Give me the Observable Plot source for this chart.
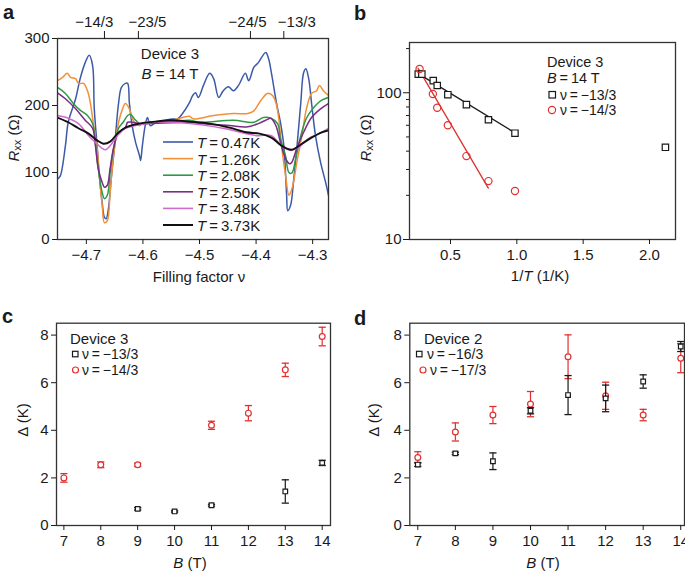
<!DOCTYPE html>
<html><head><meta charset="utf-8">
<script src="https://cdn.jsdelivr.net/npm/d3@7"></script>
<script src="https://cdn.jsdelivr.net/npm/@observablehq/plot@0.6"></script>
<style>
body{margin:0;background:#fff;}
#fig{position:relative;width:685px;height:571px;overflow:hidden;background:#fff;}
</style></head><body><div id="fig"></div>
<script>
// ---------- Panel a: Rxx vs filling factor ----------
const nu047=[-4.750,-4.746,-4.737,-4.732,-4.719,-4.711,-4.702,-4.695,-4.689,-4.686,-4.681,-4.677,-4.672,-4.668,-4.665,-4.661,-4.656,-4.650,-4.643,-4.638,-4.631,-4.627,-4.624,-4.619,-4.613,-4.606,-4.604,-4.601,-4.596,-4.592,-4.587,-4.580,-4.571,-4.560,-4.548,-4.539,-4.530,-4.518,-4.512,-4.507,-4.502,-4.493,-4.482,-4.475,-4.466,-4.458,-4.449,-4.440,-4.431,-4.419,-4.413,-4.404,-4.396,-4.383,-4.378,-4.373,-4.364,-4.357,-4.351,-4.348,-4.346,-4.344,-4.339,-4.334,-4.328,-4.321,-4.316,-4.312,-4.307,-4.302,-4.295,-4.286,-4.277,-4.272];
const r047=[91,95,140,175,210,240,264,275,260,195,140,95,55,33,31,46,91,140,204,227,233,233,204,170,145,125,118,140,170,182,170,173,176,178,180,180,188,204,215,219,212,230,248,240,212,222,228,222,230,248,237,257,264,279,270,249,204,175,140,100,66,43,51,85,136,204,249,255,240,204,155,115,85,66];
const nu126=[-4.751,-4.742,-4.734,-4.728,-4.719,-4.714,-4.705,-4.698,-4.693,-4.688,-4.681,-4.677,-4.672,-4.668,-4.663,-4.658,-4.652,-4.643,-4.636,-4.631,-4.624,-4.619,-4.613,-4.606,-4.601,-4.592,-4.578,-4.560,-4.542,-4.518,-4.511,-4.475,-4.440,-4.415,-4.404,-4.392,-4.380,-4.371,-4.365,-4.360,-4.355,-4.348,-4.342,-4.339,-4.334,-4.328,-4.319,-4.311,-4.302,-4.293,-4.288,-4.281,-4.272];
const r126=[237,242,248,242,240,233,233,222,204,175,136,96,51,25,28,70,125,175,195,203,195,181,173,170,173,176,175,176,179,184,180,185,188,188,192,207,218,215,204,181,140,96,66,70,85,115,155,195,218,222,230,222,215];
const nu208=[-4.751,-4.737,-4.723,-4.711,-4.698,-4.689,-4.684,-4.679,-4.672,-4.668,-4.663,-4.658,-4.652,-4.643,-4.635,-4.627,-4.622,-4.615,-4.606,-4.601,-4.588,-4.571,-4.548,-4.518,-4.498,-4.440,-4.404,-4.387,-4.374,-4.362,-4.357,-4.348,-4.342,-4.337,-4.330,-4.321,-4.311,-4.298,-4.286,-4.272];
const r208=[227,218,203,193,185,173,145,106,70,61,66,100,136,166,175,185,187,180,173,173,175,175,176,178,175,178,175,182,181,173,151,125,100,99,121,155,181,197,207,212];
const nu250=[-4.751,-4.737,-4.719,-4.702,-4.689,-4.684,-4.679,-4.672,-4.668,-4.663,-4.658,-4.652,-4.643,-4.631,-4.627,-4.619,-4.606,-4.518,-4.482,-4.447,-4.417,-4.396,-4.383,-4.374,-4.365,-4.357,-4.348,-4.341,-4.337,-4.328,-4.316,-4.302,-4.286,-4.272];
const r250=[219,210,195,178,166,140,106,85,78,81,106,136,160,167,175,175,173,175,172,170,168,173,178,181,170,145,121,113,115,136,160,182,195,203];
const nu348=[-4.751,-4.732,-4.714,-4.696,-4.684,-4.672,-4.666,-4.658,-4.645,-4.631,-4.613,-4.578,-4.518,-4.459,-4.399,-4.373,-4.355,-4.339,-4.325,-4.307,-4.289,-4.272];
const r348=[185,181,173,155,145,136,134,140,155,166,170,175,173,166,155,155,140,133,137,151,158,166];
const nu373=[-4.751,-4.732,-4.714,-4.696,-4.681,-4.670,-4.658,-4.645,-4.631,-4.606,-4.578,-4.548,-4.518,-4.482,-4.447,-4.417,-4.394,-4.373,-4.355,-4.337,-4.319,-4.302,-4.284,-4.272];
const r373=[182,175,166,158,148,143,146,158,167,173,176,178,176,173,167,160,158,152,140,134,143,152,160,163];
const tempLabels=["0.47","1.26","2.08","2.50","3.48","3.73"];
const tempColors=["#3c5aa9","#f2903a","#2e9a48","#7b2d84","#d06acb","#111111"];
const nuBottomTicks=[-4.7,-4.6,-4.5,-4.4,-4.3];
const nuTopTicks=[-4.668,-4.608,-4.41,-4.351];
const nuTopLabelPos=[-4.686,-4.592,-4.415,-4.328];
const nuTopLabels=["\u221214/3","\u221223/5","\u221224/5","\u221213/3"];
const rTicks=[0,100,200,300];

// ---------- Panel b: Arrhenius plot ----------
const invT13=[0.257,0.284,0.37,0.40,0.48,0.62,0.786,0.986,2.12];
const rxx13=[134,134,121,112,97,83,65.5,53,42.5];
const invT14=[0.267,0.367,0.40,0.48,0.62,0.786,0.986];
const rxx14=[145,98,79,60,37,25,21.4];
const fitX13=[0.257,0.99], fitY13=[135,53];
const fitX14=[0.255,0.785], fitY14=[147,22.4];
const bXTicks=[0.5,1.0,1.5,2.0];
const bYMajor=[10,100];
const bYMinor=[20,30,40,50,60,70,80,90,200];

// ---------- Panel c: gaps, Device 3 ----------
const cB13=[9,10,11,13,14], cGap13=[0.70,0.59,0.85,1.43,2.63], cErr13=[0.05,0.03,0.04,0.49,0.11];
const cB14=[7,8,9,11,12,13,14], cGap14=[2.0,2.55,2.55,4.21,4.72,6.54,7.94], cErr14=[0.18,0.12,0.07,0.17,0.32,0.28,0.39];
// ---------- Panel d: gaps, Device 2 ----------
const dB16=[7,8,9,10,11,12,13,14], dGap16=[2.56,3.03,2.70,4.82,5.48,5.34,6.05,7.52], dErr16=[0.08,0.05,0.35,0.13,0.82,0.56,0.28,0.21];
const dB17=[7,8,9,10,11,12,13,14], dGap17=[2.86,3.93,4.64,5.10,7.09,5.45,4.64,7.03], dErr17=[0.24,0.38,0.36,0.53,0.92,0.57,0.24,0.61];
const bTicks=[7,8,9,10,11,12,13,14];
const gapTicks=[0,2,4,6,8];

const FONT='"Liberation Sans", Arial, sans-serif';
const INK="#1a1a1a", RED="#e03131";
const fig=document.getElementById("fig");
const style={fontFamily:FONT,fontSize:"15px",color:INK,background:"transparent",overflow:"visible"};
function place(svg,left,top){svg.style.position="absolute";svg.style.left=left+"px";svg.style.top=top+"px";svg.style.maxWidth="none";fig.appendChild(svg);}
const pairs=(xs,ys,kx,ky)=>xs.map((v,i)=>({[kx]:v,[ky]:ys[i]}));

// Panel a
const seriesA=[[nu047,r047],[nu126,r126],[nu208,r208],[nu250,r250],[nu348,r348],[nu373,r373]];
const svgA=Plot.plot({
  width:340,height:290,marginLeft:57,marginRight:12,marginTop:38,marginBottom:51,
  x:{domain:[-4.751,-4.272],label:null},y:{domain:[0,300],label:null},style,
  marks:[
    ...seriesA.map(([xs,ys],k)=>Plot.line(pairs(xs,ys,"nu","r"),{x:"nu",y:"r",stroke:tempColors[k],strokeWidth:k===5?1.9:1.5,curve:"catmull-rom",clip:true})),
    Plot.frame({stroke:"#333",strokeWidth:1.3}),
    Plot.axisX({anchor:"bottom",ticks:nuBottomTicks,tickFormat:d3.format(".1f"),tickSize:5,tickPadding:5,label:null}),
    Plot.axisX({anchor:"top",ticks:nuTopTicks,tickFormat:()=>"",tickSize:8,label:null}),
    Plot.axisX({anchor:"top",ticks:nuTopLabelPos,tickFormat:d=>nuTopLabels[nuTopLabelPos.indexOf(d)],tickSize:0,tickPadding:12,label:null}),
    Plot.axisY({ticks:rTicks,tickSize:5,tickPadding:3,label:null})
  ]});
place(svgA,0,0);

// Panel b
const svgB=Plot.plot({
  width:345,height:290,marginLeft:69,marginRight:10,marginTop:42,marginBottom:51,
  x:{domain:[0.191,2.196],label:null},y:{type:"log",domain:[10,220],label:null},style,
  marks:[
    Plot.line(pairs(fitX13,fitY13,"x","y"),{x:"x",y:"y",stroke:INK,strokeWidth:1.3}),
    Plot.line(pairs(fitX14,fitY14,"x","y"),{x:"x",y:"y",stroke:RED,strokeWidth:1.3}),
    Plot.dot(pairs(invT13,rxx13,"x","y"),{x:"x",y:"y",symbol:"square",r:3.6,stroke:INK,fill:"white",strokeWidth:1.2}),
    Plot.dot(pairs(invT14,rxx14,"x","y"),{x:"x",y:"y",symbol:"circle",r:3.6,stroke:RED,fill:"none",strokeWidth:1.2}),
    Plot.frame({stroke:"#333",strokeWidth:1.3}),
    Plot.axisX({ticks:bXTicks,tickFormat:d3.format(".1f"),tickSize:5,tickPadding:5,label:null}),
    Plot.axisY({ticks:bYMajor,tickFormat:d=>String(d),tickSize:6,tickPadding:2,label:null}),
    Plot.axisY({ticks:bYMinor,tickFormat:()=>"",tickSize:3,label:null})
  ]});
place(svgB,340,0);

// Panels c & d
const cap={draw(ctx,size){const w=Math.sqrt(size/Math.PI);ctx.moveTo(-w,0);ctx.lineTo(w,0);}};
function gapMarks(B,G,E,color,symbol){
  const data=B.map((b,i)=>({B:b,G:G[i],lo:G[i]-E[i],hi:G[i]+E[i]}));
  return [
    Plot.ruleX(data,{x:"B",y1:"lo",y2:"hi",stroke:color,strokeWidth:1.2}),
    Plot.dot(data,{x:"B",y:"lo",symbol:cap,r:3.6,stroke:color,strokeWidth:1.3}),
    Plot.dot(data,{x:"B",y:"hi",symbol:cap,r:3.6,stroke:color,strokeWidth:1.3}),
    Plot.dot(data,{x:"B",y:"G",symbol,r:symbol==="square"?2.6:2.9,stroke:color,fill:"white",strokeWidth:1.2})
  ];
}
function gapPlot(domainX,mL,mR,series){
  return Plot.plot({
    width:mL===56?340:345,height:271,marginLeft:mL,marginRight:mR,marginTop:22.7,marginBottom:46,
    x:{domain:domainX,label:null},y:{domain:[0,8.5],label:null},style,
    marks:[...series,
      Plot.frame({stroke:"#333",strokeWidth:1.3}),
      Plot.axisX({ticks:bTicks,tickSize:5,tickPadding:5,label:null}),
      Plot.axisY({ticks:gapTicks,tickSize:5,tickPadding:3,label:null})
    ]});
}
place(gapPlot([6.80,14.225],56,10,[...gapMarks(cB13,cGap13,cErr13,INK,"square"),...gapMarks(cB14,cGap14,cErr14,RED,"circle")]),0,300);
place(gapPlot([6.787,14.1],69.3,1,[...gapMarks(dB17,dGap17,dErr17,RED,"circle"),...gapMarks(dB16,dGap16,dErr16,INK,"square")]),340,300);

// ---------- Annotation overlay (text, legends) ----------
const ov=d3.select(fig).append("svg").attr("width",685).attr("height",571)
  .style("position","absolute").style("left","0px").style("top","0px").style("pointer-events","none");
function txt(x,y,parts,o={}){
  const t=ov.append("text").attr("x",x).attr("y",y).attr("font-family",FONT).attr("font-size",o.size||15)
    .attr("fill",INK).attr("text-anchor",o.anchor||"start").attr("dominant-baseline","central");
  if(o.rotate) t.attr("transform",`rotate(-90 ${x} ${y})`);
  if(o.weight) t.attr("font-weight",o.weight);
  for(const p of parts){
    const s=t.append("tspan").text(p.t);
    if(p.i) s.attr("font-style","italic");
    if(p.sub){s.attr("font-size",11).attr("dy",4);}
    if(p.up){s.attr("dy",-4);}
  }
  return t;
}
// panel letters
txt(3,12,[{t:"a"}],{size:20,weight:"bold"});
txt(354,13,[{t:"b"}],{size:20,weight:"bold"});
txt(2,316,[{t:"c"}],{size:20,weight:"bold"});
txt(354,318,[{t:"d"}],{size:20,weight:"bold"});
// panel a
txt(170,53,[{t:"Device 3"}],{anchor:"middle"});
txt(170,73,[{t:"B",i:1},{t:" = 14 T"}],{anchor:"middle"});
tempLabels.forEach((lab,k)=>{
  const y=142+k*16.6;
  ov.append("line").attr("x1",163).attr("x2",193).attr("y1",y).attr("y2",y).attr("stroke",tempColors[k]).attr("stroke-width",k===5?2:1.6);
  txt(197,y,[{t:"T",i:1},{t:"\u2009=\u2009"+lab+"K"}]);
});
txt(13,138,[{t:"R",i:1},{t:"xx",sub:1},{t:" (\u03A9)",up:1}],{anchor:"middle",rotate:1});
txt(199,276,[{t:"Filling factor \u03BD"}],{anchor:"middle"});
// panel b
txt(547,62,[{t:"Device 3"}],{size:14.5});
txt(547,78,[{t:"B",i:1},{t:"\u2009=\u200914 T"}],{size:14.5});
ov.append("rect").attr("x",549).attr("y",91.5).attr("width",6.5).attr("height",6.5).attr("fill","white").attr("stroke",INK).attr("stroke-width",1.2);
txt(560,94.5,[{t:"\u03BD\u2009=\u2009\u221213/3"}],{size:14});
ov.append("circle").attr("cx",552).attr("cy",110).attr("r",3.6).attr("fill","none").attr("stroke",RED).attr("stroke-width",1.2);
txt(560,110,[{t:"\u03BD\u2009=\u2009\u221214/3"}],{size:14});
txt(365,138,[{t:"R",i:1},{t:"xx",sub:1},{t:" (\u03A9)",up:1}],{anchor:"middle",rotate:1});
txt(540,275,[{t:"1/"},{t:"T",i:1},{t:" (1/K)"}],{anchor:"middle"});
// panel c
txt(70,338,[{t:"Device 3"}]);
ov.append("rect").attr("x",72.5).attr("y",351.3).attr("width",5.5).attr("height",5.5).attr("fill","white").attr("stroke",INK).attr("stroke-width",1.2);
txt(82,354,[{t:"\u03BD\u2009=\u2009\u221213/3"}],{size:14});
ov.append("circle").attr("cx",75.5).attr("cy",370).attr("r",3).attr("fill","none").attr("stroke",RED).attr("stroke-width",1.2);
txt(82,370,[{t:"\u03BD\u2009=\u2009\u221214/3"}],{size:14});
txt(22,420,[{t:"\u0394 (K)"}],{anchor:"middle",rotate:1});
txt(190,562,[{t:"B",i:1},{t:" (T)"}],{anchor:"middle"});
// panel d
txt(424,338,[{t:"Device 2"}]);
ov.append("rect").attr("x",416.5).attr("y",351.3).attr("width",5.5).attr("height",5.5).attr("fill","white").attr("stroke",INK).attr("stroke-width",1.2);
txt(427,354,[{t:"\u03BD\u2009=\u2009\u221216/3"}],{size:14});
ov.append("circle").attr("cx",423).attr("cy",370).attr("r",3).attr("fill","none").attr("stroke",RED).attr("stroke-width",1.2);
txt(430,370,[{t:"\u03BD\u2009=\u2009\u221217/3"}],{size:14});
txt(373,420,[{t:"\u0394 (K)"}],{anchor:"middle",rotate:1});
txt(543,562,[{t:"B",i:1},{t:" (T)"}],{anchor:"middle"});
</script></body></html>
